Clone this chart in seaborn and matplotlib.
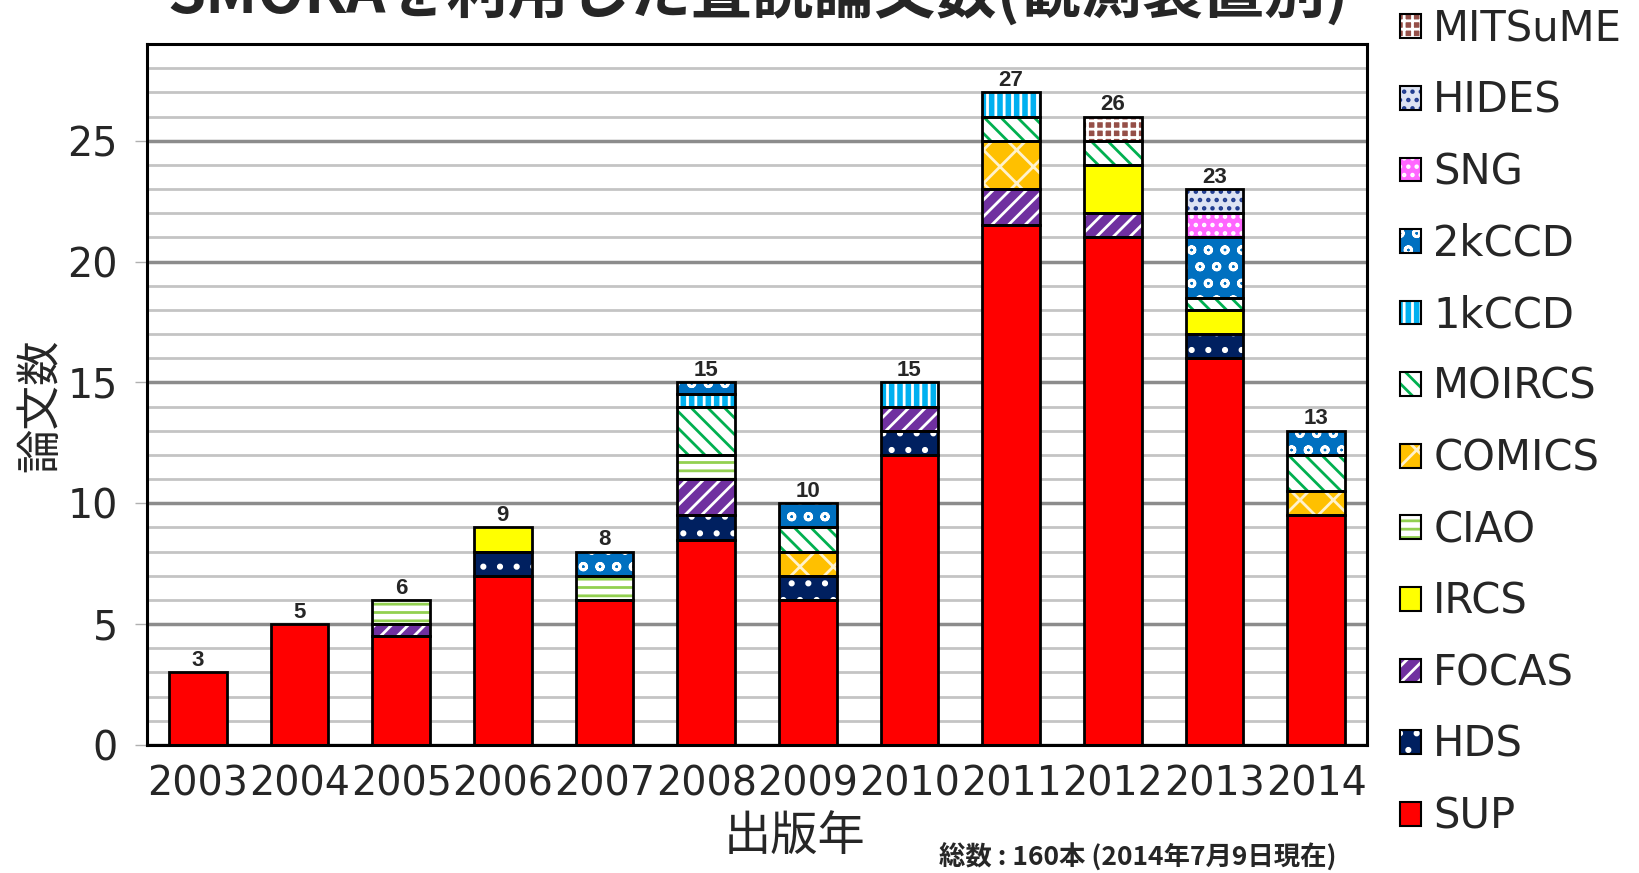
"""
stacked bar chart of SMOKA papers per instrument
"""

import matplotlib
matplotlib.use("Agg")
import matplotlib.pyplot as plt
from matplotlib.patches import Patch
from matplotlib.legend_handler import HandlerTuple
import pandas as pd
import seaborn as sns

years = ['2003', '2004', '2005', '2006', '2007', '2008',
         '2009', '2010', '2011', '2012', '2013', '2014']

# stacked bottom -> top
sup = [3, 5, 4.5, 7, 6, 8.5, 6, 12, 21.5, 21, 16, 9.5]
hds = [0, 0, 0, 1, 0, 1, 1, 1, 0, 0, 1, 0]
focas = [0, 0, 0.5, 0, 0, 1.5, 0, 1, 1.5, 1, 0, 0]
ircs = [0, 0, 0, 1, 0, 0, 0, 0, 0, 2, 1, 0]
ciao = [0, 0, 1, 0, 1, 1, 0, 0, 0, 0, 0, 0]
comics = [0, 0, 0, 0, 0, 0, 1, 0, 2, 0, 0, 1]
moircs = [0, 0, 0, 0, 0, 2, 1, 0, 1, 1, 0.5, 1.5]
ccd1k = [0, 0, 0, 0, 0, 0.5, 0, 1, 1, 0, 0, 0]
ccd2k = [0, 0, 0, 0, 1, 0.5, 1, 0, 0, 0, 2.5, 1]
sng = [0, 0, 0, 0, 0, 0, 0, 0, 0, 0, 1, 0]
hides = [0, 0, 0, 0, 0, 0, 0, 0, 0, 0, 1, 0]
mitsume = [0, 0, 0, 0, 0, 0, 0, 0, 0, 1, 0, 0]

names = ['SUP', 'HDS', 'FOCAS', 'IRCS', 'CIAO', 'COMICS', 'MOIRCS',
         '1kCCD', '2kCCD', 'SNG', 'HIDES', 'MITSuME']
series = [sup, hds, focas, ircs, ciao, comics, moircs, ccd1k, ccd2k, sng, hides, mitsume]

# (face colour, hatch, hatch colour)
styles = {
    'SUP': ('#ff0000', '', '#ff0000'),
    'HDS': ('#002060', '.', 'white'),
    'FOCAS': ('#7030a0', '//', 'white'),
    'IRCS': ('#ffff00', '', '#ffff00'),
    'CIAO': ('white', '--', '#92d050'),
    'COMICS': ('#ffc000', 'x', '#fff2cc'),
    'MOIRCS': ('white', '\\\\', '#00b050'),
    '1kCCD': ('#00b0f0', '||', 'white'),
    '2kCCD': ('#0070c0', 'o', 'white'),
    'SNG': ('#ff66ff', '..', 'white'),
    'HIDES': ('#dde3f3', '..', '#203c90'),
    'MITSuME': ('#954f48', '++', 'white'),
}

sns.set_style('white')
plt.rcParams['font.family'] = ['DejaVu Sans', 'Noto Sans CJK JP']
plt.rcParams['hatch.linewidth'] = 2.0

fig = plt.figure(figsize=(16.4, 8.73), dpi=100)
ax = fig.add_axes([147 / 1640, 1 - 745 / 873, 1220 / 1640, 701 / 873])

bottom = [0] * len(years)
for name, vals in zip(names, series):
    face, hatch, hcol = styles[name]
    df = pd.DataFrame({'year': years, 'n': vals})
    # fill + hatch
    sns.barplot(data=df, x='year', y='n', order=years, errorbar=None, width=0.57,
                ax=ax, color=face, saturation=1, facecolor=face, edgecolor=hcol,
                hatch=hatch, linewidth=0, bottom=bottom, zorder=3)
    for p in ax.containers[-1]:
        if p.get_height() == 0:
            p.set_visible(False)
    # black outline
    sns.barplot(data=df, x='year', y='n', order=years, errorbar=None, width=0.57,
                ax=ax, color='black', saturation=1, facecolor='none',
                edgecolor='black', linewidth=2, bottom=bottom, zorder=4)
    for p in ax.containers[-1]:
        if p.get_height() == 0:
            p.set_visible(False)
    bottom = [b + v for b, v in zip(bottom, vals)]

# totals above bars
for i, tot in enumerate(bottom):
    ax.annotate(f'{tot:g}', (i, tot), xytext=(0, 1), textcoords='offset points',
                ha='center', va='bottom', fontsize=16, fontweight='bold',
                family='Liberation Sans', zorder=5)

ax.set_xlim(-0.5, len(years) - 0.5)
ax.set_ylim(0, 29)
ax.set_yticks(range(0, 26, 5))
ax.set_yticks(range(0, 29), minor=True)
ax.set_xticks([i + 0.5 for i in range(-1, len(years))], minor=True)
ax.grid(axis='y', which='minor', color='#c4c4c4', linewidth=2, zorder=0)
ax.grid(axis='y', which='major', color='#8c8c8c', linewidth=2.5, zorder=0)
ax.set_axisbelow(True)
ax.tick_params(axis='x', which='major', length=0, labelsize=28.5, pad=14)
ax.tick_params(axis='x', which='minor', length=18, direction='inout',
               color='#b0b0b0', width=1)
ax.tick_params(axis='y', which='major', length=9, color='#b0b0b0', width=1,
               labelsize=28.5, pad=12, left=True)
ax.tick_params(axis='y', which='minor', length=0)
for s in ax.spines.values():
    s.set_color('black')
    s.set_linewidth(2.2)
    s.set_zorder(6)

ax.set_xlabel('')
ax.set_ylabel('')
fig.text(40 / 1640, 1 - 405 / 873, '論文数', rotation=90, ha='center', va='center',
         fontsize=32, family='Noto Sans CJK JP')
fig.text(795 / 1640, 1 - 838 / 873, '出版年', ha='center', va='center',
         fontsize=34, family='Noto Sans CJK JP')
fig.text(1138 / 1640, 1 - 858 / 873, '総数 : 160本 (2014年7月9日現在)', ha='center',
         va='center', fontsize=19, fontweight='bold', family='Noto Sans CJK JP')
# title sits partly above the top edge, as in the source image
fig.text(758 / 1640, 1 - 13 / 873, 'SMOKAを利用した査読論文数(観測装置別)',
         ha='center', va='baseline', fontsize=44, fontweight='bold',
         family='Noto Sans CJK JP')

# legend, top entry = last stacked
handles = []
for name in names[::-1]:
    face, hatch, hcol = styles[name]
    handles.append((Patch(facecolor=face, edgecolor=hcol, hatch=hatch, linewidth=0),
                    Patch(facecolor='none', edgecolor='black', linewidth=1.5)))
fig.legend(handles, names[::-1], handler_map={tuple: HandlerTuple(ndivide=1)},
           loc='upper left', bbox_to_anchor=(1400 / 1640, 1 - 8 / 873),
           frameon=False, fontsize=30, handlelength=0.5, handleheight=0.5,
           handletextpad=0.3, labelspacing=0.71, borderpad=0, borderaxespad=0)

fig.savefig('out.png', dpi=100)
